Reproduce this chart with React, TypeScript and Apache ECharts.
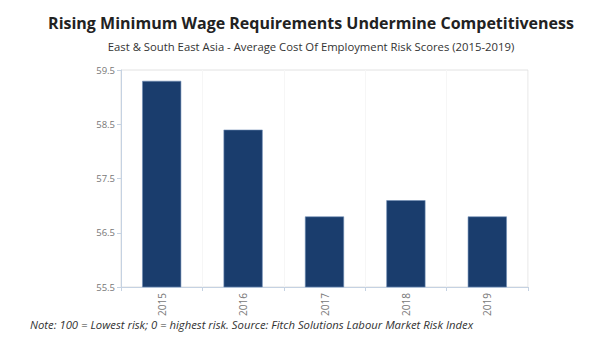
import React, { useEffect, useRef } from "react";
import * as echarts from "echarts";

const years = ["2015", "2016", "2017", "2018", "2019"];
const scores = [59.3, 58.4, 56.8, 57.1, 56.8];
const yMin = 55.5;
const yMax = 59.5;
const yStep = 1;

const titleText = "Rising Minimum Wage Requirements Undermine Competitiveness";
const subtitleText = "East & South East Asia - Average Cost Of Employment Risk Scores (2015-2019)";
const noteText = "Note: 100 = Lowest risk; 0 = highest risk. Source: Fitch Solutions Labour Market Risk Index";

export default function App() {
  const ref = useRef<HTMLDivElement>(null);
  useEffect(() => {
    if (!ref.current) return;
    const chart = echarts.init(ref.current, undefined, { renderer: "svg" });
    chart.setOption({
      animation: false,
      backgroundColor: "#ffffff",
      textStyle: { fontFamily: "Open Sans" },
      graphic: [
        {
          type: "text",
          x: 311,
          y: 23,
          style: {
            text: titleText,
            font: "bold 16px 'Open Sans'",
            fill: "#222222",
            textAlign: "center",
            textVerticalAlign: "middle",
          },
        },
        {
          type: "text",
          x: 311,
          y: 46,
          style: {
            text: subtitleText,
            font: "11.3px 'Open Sans'",
            fill: "#333333",
            textAlign: "center",
            textVerticalAlign: "middle",
          },
        },
        {
          type: "text",
          left: 30,
          top: 319,
          style: {
            text: noteText,
            font: "italic 11.3px 'Open Sans'",
            fill: "#333333",
          },
        },
      ],
      grid: {
        left: 121,
        right: 72,
        top: 70,
        bottom: 73,
        show: true,
        borderColor: "#e2e2e2",
        borderWidth: 1,
      },
      xAxis: {
        type: "category",
        data: years,
        axisLine: { show: true, lineStyle: { color: "#c5d2e2" } },
        axisTick: { show: true, alignWithLabel: false, length: 4, lineStyle: { color: "#c5d2e2" } },
        axisLabel: { rotate: 90, fontSize: 10, color: "#777777", margin: 6 },
        splitLine: { show: true, lineStyle: { color: "#f6f6f6" } },
      },
      yAxis: {
        type: "value",
        min: yMin,
        max: yMax,
        interval: yStep,
        axisLine: { show: true, lineStyle: { color: "#c5d2e2" } },
        axisTick: { show: true, length: 4, lineStyle: { color: "#c5d2e2" } },
        axisLabel: { fontSize: 9.5, color: "#777777", margin: 6, formatter: (v: number) => v.toFixed(1) },
        splitLine: { show: false },
      },
      series: [
        {
          type: "bar",
          data: scores,
          barWidth: "48%",
          itemStyle: { color: "#1a3d6d", borderColor: "#6f8db5", borderWidth: 0.6 },
        },
      ],
    });
    return () => chart.dispose();
  }, []);
  return <div ref={ref} style={{ position: "fixed", left: 0, top: 0, width: 600, height: 360 }} />;
}
